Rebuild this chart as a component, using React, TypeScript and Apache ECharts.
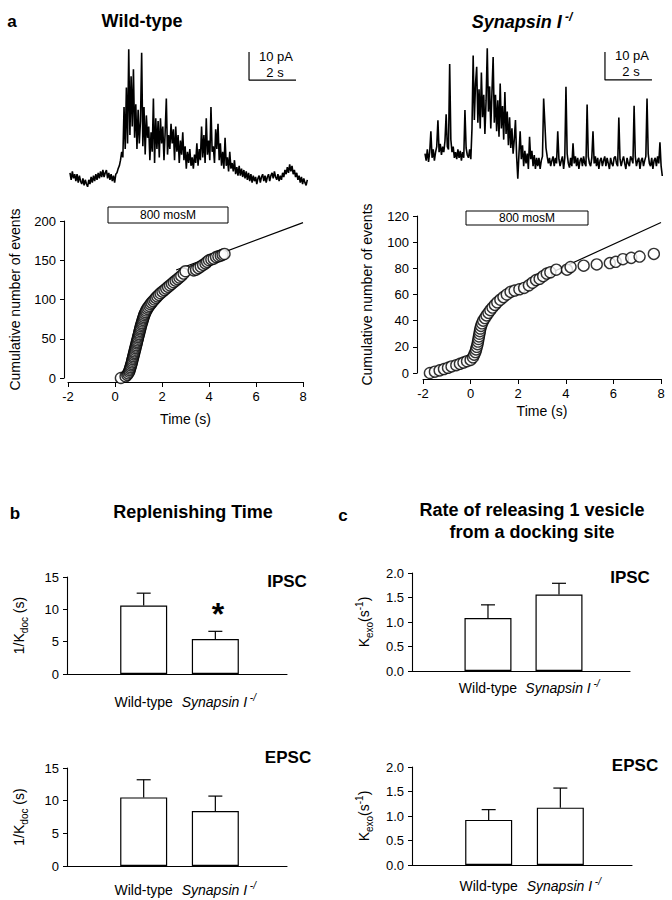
import React, { useEffect, useRef } from 'react';
import * as echarts from 'echarts';

const FONT = "'Liberation Sans', Arial, Helvetica, sans-serif";

// ---------- panel a: raw current traces (pA), sampled every traceDt seconds ----------
const traceDt = 0.05;
const wildTypeTrace = [
  1.5, -1, 2, -0.5, 1, -1.5, 1, -2, 0.5, -1.5,
  -2.5, -0.5, -3, -1, -2.5, -3.5, -1, -2.5, 0, -2,
  0.5, -1.5, 1, -1, 1.5, -0.5, 2, 0, 2.5, 0,
  1.5, 2.5, -0.5, 1.5, -1, 1, -1.5, 0.5, -2, 1,
  1.5, 3, 4, 6, 9, 7, 25, 10, 32, 12,
  45.6, 15, 36, 18, 38.5, 14, 26, 10, 24, 12,
  20, 44.4, 11, 25, 8, 22, 14, 18, 6, 16,
  9, 28, 5, 21, 10, 20, 7, 21, 12, 18,
  6, 16, 28, 8, 15, 10, 19, 12, 17, 6,
  18, 9, 15, 5, 13, 8, 16, 6, 11, 3,
  9, 5, 10, 4, 7, 3, 8, 5, 12, 4,
  10, 6, 18, 7, 15, 5, 21, 8, 13, 6,
  25, 9, 11, 5, 17, 10, 19, 6, 12, 4,
  9, 3, 14, 4, 7, 2, 9, 3, 5, 2,
  6, 1, 3.5, 0.5, 4, 0.5, 3, 0, 2.5, -0.5,
  2, -1, 1.5, -1.5, 1, -2, 0.5, -1.5, 0, -2.5,
  -0.5, 0.5, -2, 0, 1, -1.5, 0.5, -2, 0, 1,
  -1.5, 0.5, 1.5, -0.5, 2, 0, -1, 1, -1.5, 0.5,
  -1, 1.5, 0, 2.5, 1, 3.5, 1.5, 4.5, 2, 4,
  1, 2.5, 0, 1.5, -1, 0.5, -2, 0, -2.5, -0.5,
  -2, -3, -1,
];
const synapsinTrace = [
  3, 0.5, 4.5, 0, 3.5, 11, 1.5, 4.5, 0.5, 3.5,
  5.5, 14.9, 3.5, 6.5, 2.5, 5.5, 3.5, 7.5, 17, 5.5,
  4.5, 35, 8, 3.5, 5.5, 1.5, 3.5, 1, 4.5, 1.5,
  4, 0.5, 3.5, 1.5, 18.6, 5, 2.5, 1.5, 4.5, 1,
  12, 38, 15, 28, 34, 14, 26, 12, 32, 16,
  24, 10, 22, 40.6, 18, 27, 12, 25, 37.5, 14,
  24, 11, 22, 9, 28, 12, 20, 8, 25, 10,
  18, 6, 16, 5, 12, 3, 8, 15, 2, -6,
  3, 11, 1, 6, -1.5, 4, -0.5, 3, -2.5, 9,
  1, 4, -1.5, 2.5, -2.5, 1.5, -1.5, 1.5, -2.5, 0.5,
  2, 22.7, 14, 5, 2, -0.5, 1.5, -1.5, 0.5, 2,
  -1.5, 1.5, -0.5, 11, 1, -1.5, 0.5, 2, -2.5, 1.5,
  26.9, 3, -0.5, -2, 1.5, -1.5, 6.7, -0.5, 2, -1.5,
  1.5, -2.5, 0.5, 1.5, -1.5, 2, -0.5, -1.5, 20.5, 2,
  -0.5, -1.5, 1.5, 11, -0.5, 2, -1.5, 1.5, -2.5, 0.5,
  1.5, -1.5, 0.5, 2, -1.5, 1.5, -0.5, -2.5, 1.5, -0.5,
  -1.5, 1.5, 2, -0.5, -1.5, 15.9, 1, -1.5, 0.5, 2,
  -0.5, -2.5, 1.5, -0.5, -1.5, 2, 1, -0.5, 20.1, 2,
  -1.5, 0.5, 1.5, -2.5, 0.5, 1.5, -1.5, 0.5, 2, 22.7,
  3, -0.5, -1.5, 1.5, -2.5, 0.5, 1.5, -1.5, 2, -0.5,
  7, -1.5, -5,
];
// scale bars: 10 pA / 2 s, [time s, current pA]
const scaleBarWT = [[7.62, 44.6], [7.62, 34.6], [9.62, 34.6]];
const scaleBarSyn = [[7.66, 39.3], [7.66, 29.3], [9.66, 29.3]];

// ---------- panel a: cumulative number of events ----------
const wtCumulative = [
  [0.25, 0], [0.45, 2], [0.52, 4], [0.56, 6], [0.6, 8], [0.62, 10], [0.64, 12], [0.66, 14], [0.68, 16], [0.7, 18],
  [0.72, 20], [0.73, 22], [0.75, 24], [0.77, 26], [0.78, 28], [0.8, 30], [0.82, 32], [0.83, 34], [0.85, 36], [0.87, 38],
  [0.88, 40], [0.9, 42], [0.92, 44], [0.93, 46], [0.95, 48], [0.97, 50], [0.98, 52], [1.0, 54], [1.02, 56], [1.03, 58],
  [1.05, 60], [1.07, 62], [1.08, 64], [1.1, 66], [1.12, 68], [1.14, 70], [1.16, 72], [1.18, 74], [1.2, 76], [1.22, 78],
  [1.24, 80], [1.27, 82], [1.3, 84], [1.33, 86], [1.37, 88], [1.41, 90], [1.46, 92], [1.51, 94], [1.56, 96], [1.62, 98],
  [1.68, 100], [1.74, 102], [1.8, 104], [1.87, 106], [1.94, 108], [2.02, 110], [2.1, 112], [2.18, 114], [2.26, 116], [2.34, 118],
  [2.42, 120], [2.5, 122], [2.58, 124], [2.66, 126], [2.74, 128], [2.82, 130], [2.92, 133], [3.0, 136], [3.35, 137], [3.45, 138],
  [3.55, 140], [3.65, 142], [3.75, 144], [3.85, 146], [3.92, 148], [4.0, 150], [4.1, 151], [4.2, 152], [4.3, 154], [4.4, 155],
  [4.5, 156], [4.58, 157], [4.66, 158],
];
const wtFit = [[2.6, 137.5], [8, 198]];
const synCumulative = [
  [-1.71, 0], [-1.5, 1], [-1.3, 2], [-1.12, 3], [-0.95, 4], [-0.8, 5], [-0.6, 6], [-0.45, 7], [-0.3, 8], [-0.15, 9],
  [0.0, 10], [0.1, 12], [0.15, 14], [0.2, 16], [0.23, 18], [0.26, 20], [0.29, 22], [0.31, 24], [0.33, 26], [0.35, 28],
  [0.37, 30], [0.39, 32], [0.41, 34], [0.44, 36], [0.48, 38], [0.53, 40], [0.6, 42], [0.67, 44], [0.75, 46], [0.83, 48],
  [0.92, 50], [1.02, 52], [1.12, 54], [1.25, 56], [1.38, 58], [1.52, 60], [1.68, 62], [1.85, 63], [2.05, 64], [2.25, 65],
  [2.45, 67], [2.6, 69], [2.75, 71], [2.9, 72], [3.05, 74], [3.2, 76], [3.35, 77], [3.6, 79], [4.05, 79], [4.2, 81],
  [4.75, 82], [5.3, 83], [5.85, 84], [6.1, 85], [6.4, 87], [6.75, 88], [7.1, 89], [7.7, 91],
];
const synFit = [[1.5, 61], [8, 115]];

// ---------- panels b, c: bar charts ----------
const groups = ['Wild-type', 'Synapsin I'];
const groupPos = [1, 2];
const kdocIpscMean = [10.6, 5.4];
const kdocIpscSem = [1.9, 1.2];
const kdocEpscMean = [10.5, 8.4];
const kdocEpscSem = [2.7, 2.3];
const kexoIpscMean = [1.08, 1.56];
const kexoIpscSem = [0.27, 0.23];
const kexoEpscMean = [0.92, 1.17];
const kexoEpscSem = [0.21, 0.4];

const BLACK = '#000';

function baseAxis(extra: any) {
  const { axisLine, ...rest } = extra;
  return {
    axisLine: { show: true, onZero: false, lineStyle: { color: BLACK, width: 1.1 }, ...(axisLine || {}) },
    axisTick: { show: true, length: 4, lineStyle: { color: BLACK, width: 1 } },
    axisLabel: { color: BLACK, fontSize: 13, fontFamily: FONT },
    splitLine: { show: false },
    nameTextStyle: { color: BLACK, fontSize: 14, fontFamily: FONT },
    ...rest,
  };
}

const hiddenX = (idx: number) => ({ type: 'value', gridIndex: idx, min: 0, max: 10.13, show: false });
const hiddenY = (idx: number) => ({ type: 'value', gridIndex: idx, min: -10, max: 50, show: false });

const catRich = {
  wt: { fontSize: 14, fontFamily: FONT, color: BLACK, lineHeight: 20 },
  it: { fontStyle: 'italic', fontSize: 14, fontFamily: FONT, color: BLACK, lineHeight: 20, padding: [0, 0, 0, 7] },
  sup: { fontStyle: 'italic', fontSize: 10, fontFamily: FONT, color: BLACK, verticalAlign: 'top', lineHeight: 10 },
};

function barX(idx: number, margin: number) {
  return baseAxis({
    type: 'value', gridIndex: idx, min: -0.07, max: 3.0,
    axisTick: { show: false },
    axisLabel: {
      customValues: groupPos,
      margin,
      color: BLACK, fontSize: 14, fontFamily: FONT, lineHeight: 20,
      formatter: (v: number) => {
        const i = groupPos.indexOf(v);
        if (i === 0) return '{wt|' + groups[0] + '}';
        if (i === 1) return '{it|' + groups[1] + '}{sup| -/}';
        return '';
      },
      rich: catRich,
    },
  });
}

const subRich = {
  sub: { fontSize: 10, fontFamily: FONT, color: BLACK, verticalAlign: 'bottom', lineHeight: 10 },
  sup: { fontSize: 10, fontFamily: FONT, color: BLACK, verticalAlign: 'top', lineHeight: 10 },
};

function kdocY(idx: number) {
  return baseAxis({
    type: 'value', gridIndex: idx, min: 0, max: 15, interval: 5,
    name: '1/K{sub|doc} (s)', nameLocation: 'middle', nameGap: 38,
    nameTextStyle: { color: BLACK, fontSize: 14, fontFamily: FONT, lineHeight: 20, rich: subRich },
  });
}
function kexoY(idx: number) {
  return baseAxis({
    type: 'value', gridIndex: idx, min: 0, max: 2, interval: 0.5,
    axisLabel: { color: BLACK, fontSize: 13, fontFamily: FONT, formatter: (v: number) => v.toFixed(1) },
    name: 'K{sub|exo}(s{sup|-1})', nameLocation: 'middle', nameGap: 38,
    nameTextStyle: { color: BLACK, fontSize: 14, fontFamily: FONT, lineHeight: 20, rich: subRich },
  });
}

function barSeries(idx: number, means: number[]) {
  return {
    type: 'bar', xAxisIndex: idx, yAxisIndex: idx, silent: true,
    data: groupPos.map((x, i) => [x, means[i]]),
    barWidth: 47,
    itemStyle: { color: '#fff', borderColor: BLACK, borderWidth: 1.2 },
    z: 2,
  };
}
function errSeries(idx: number, means: number[], sems: number[]) {
  return {
    type: 'custom', xAxisIndex: idx, yAxisIndex: idx, silent: true, z: 3,
    encode: { x: 0, y: 1 },
    data: groupPos.map((x, i) => [x, means[i], sems[i]]),
    renderItem: (params: any, api: any) => {
      const x = api.value(0), m = api.value(1), e = api.value(2);
      const p0 = api.coord([x, m]);
      const p1 = api.coord([x, m + e]);
      const st = { stroke: BLACK, lineWidth: 1.2 };
      return {
        type: 'group',
        children: [
          { type: 'line', shape: { x1: p0[0], y1: p0[1], x2: p1[0], y2: p1[1] }, style: st },
          { type: 'line', shape: { x1: p1[0] - 7, y1: p1[1], x2: p1[0] + 7, y2: p1[1] }, style: st },
        ],
      };
    },
  };
}

function txt(text: string, x: number, y: number, size: number, weight = 'bold', extra: any = {}) {
  return {
    type: 'text', x, y, silent: true,
    style: { text, fontSize: size, fontWeight: weight, fontFamily: FONT, fill: BLACK, align: 'center', verticalAlign: 'middle', ...extra },
  };
}

export default function App() {
  const ref = useRef<HTMLDivElement>(null);
  useEffect(() => {
    if (!ref.current) return;
    const chart = echarts.init(ref.current, undefined, { renderer: 'svg' });
    const traceLine = (idx: number, data: number[][], w: number) => ({
      type: 'line', xAxisIndex: idx, yAxisIndex: idx, data, symbol: 'none', showSymbol: false, silent: true,
      lineStyle: { color: BLACK, width: w },
    });
    const circleStyle = { color: '#fff', borderColor: BLACK, borderWidth: 1.4 };
    const option: any = {
      animation: false,
      backgroundColor: '#fff',
      grid: [
        { left: 70, top: 37, width: 238, height: 168 },
        { left: 425, top: 22, width: 238, height: 168 },
        { left: 68, top: 221, width: 235, height: 157 },
        { left: 423, top: 216, width: 238, height: 157 },
        { left: 67, top: 577, width: 220, height: 97 },
        { left: 67, top: 768, width: 220, height: 98 },
        { left: 412, top: 573, width: 218, height: 98 },
        { left: 412, top: 767, width: 220, height: 98 },
      ],
      xAxis: [
        hiddenX(0),
        hiddenX(1),
        baseAxis({ type: 'value', gridIndex: 2, min: -2, max: 8, interval: 2, offset: 4, axisTick: { show: true, length: 5, lineStyle: { color: BLACK } }, name: 'Time (s)', nameLocation: 'middle', nameGap: 30 }),
        baseAxis({ type: 'value', gridIndex: 3, min: -2, max: 8, interval: 2, offset: 6, axisTick: { show: true, length: 5, lineStyle: { color: BLACK } }, name: 'Time (s)', nameLocation: 'middle', nameGap: 25 }),
        barX(4, 18),
        barX(5, 14),
        barX(6, 7),
        barX(7, 11),
      ],
      yAxis: [
        hiddenY(0),
        hiddenY(1),
        baseAxis({ type: 'value', gridIndex: 2, min: 0, max: 200, interval: 50, offset: 4, name: 'Cumulative number of events', nameLocation: 'middle', nameGap: 42 }),
        baseAxis({ type: 'value', gridIndex: 3, min: 0, max: 120, interval: 20, offset: 6, name: 'Cumulative number of events', nameLocation: 'middle', nameGap: 43 }),
        kdocY(4),
        kdocY(5),
        kexoY(6),
        kexoY(7),
      ],
      series: [
        traceLine(0, wildTypeTrace.map((v, i) => [i * traceDt, v]), 1.6),
        traceLine(1, synapsinTrace.map((v, i) => [i * traceDt, v]), 1.6),
        traceLine(0, scaleBarWT, 1.2),
        traceLine(1, scaleBarSyn, 1.2),
        { type: 'line', xAxisIndex: 2, yAxisIndex: 2, data: wtFit, symbol: 'none', silent: true, lineStyle: { color: BLACK, width: 1.2 }, z: 2 },
        { type: 'scatter', xAxisIndex: 2, yAxisIndex: 2, data: wtCumulative, symbol: 'circle', symbolSize: 11, silent: true, itemStyle: circleStyle, z: 3 },
        { type: 'line', xAxisIndex: 3, yAxisIndex: 3, data: synFit, symbol: 'none', silent: true, lineStyle: { color: BLACK, width: 1.2 }, z: 2 },
        { type: 'scatter', xAxisIndex: 3, yAxisIndex: 3, data: synCumulative, symbol: 'circle', symbolSize: 11, silent: true, itemStyle: circleStyle, z: 3 },
        barSeries(4, kdocIpscMean), errSeries(4, kdocIpscMean, kdocIpscSem),
        barSeries(5, kdocEpscMean), errSeries(5, kdocEpscMean, kdocEpscSem),
        barSeries(6, kexoIpscMean), errSeries(6, kexoIpscMean, kexoIpscSem),
        barSeries(7, kexoEpscMean), errSeries(7, kexoEpscMean, kexoEpscSem),
      ],
      graphic: [
        txt('a', 12, 21, 17),
        txt('Wild-type', 142, 21, 18),
        {
          type: 'text', x: 522, y: 22, silent: true,
          style: {
            text: '{m|Synapsin I}{s| -/}', align: 'center', verticalAlign: 'middle', fill: BLACK,
            rich: {
              m: { fontSize: 18, fontWeight: 'bold', fontStyle: 'italic', fontFamily: FONT, fill: BLACK, lineHeight: 22 },
              s: { fontSize: 12, fontWeight: 'bold', fontStyle: 'italic', fontFamily: FONT, fill: BLACK, verticalAlign: 'top', lineHeight: 12 },
            },
          },
        },
        txt('10 pA', 276, 56, 13, 'normal'),
        txt('2 s', 275, 72, 13, 'normal'),
        txt('10 pA', 632, 55, 13, 'normal'),
        txt('2 s', 631, 71, 13, 'normal'),
        { type: 'rect', silent: true, shape: { x: 108, y: 207, width: 120, height: 16 }, style: { fill: '#fff', stroke: BLACK, lineWidth: 1 } },
        txt('800 mosM', 168, 215, 12, 'normal'),
        { type: 'rect', silent: true, shape: { x: 466, y: 211, width: 122, height: 14 }, style: { fill: '#fff', stroke: BLACK, lineWidth: 1 } },
        txt('800 mosM', 527, 218, 12, 'normal'),
        txt('b', 15, 513, 17),
        txt('Replenishing Time', 193, 512, 18),
        txt('c', 343, 515, 17),
        txt('Rate of releasing 1 vesicle', 532, 510, 18),
        txt('from a docking site', 532, 532, 18),
        txt('IPSC', 287, 581, 17),
        txt('EPSC', 288, 757, 17),
        txt('IPSC', 630, 577, 17),
        txt('EPSC', 635, 765, 17),
        txt('*', 218, 614, 32),
      ],
    };
    chart.setOption(option);
    return () => chart.dispose();
  }, []);
  return <div ref={ref} style={{ position: 'absolute', left: 0, top: 0, width: 672, height: 900, background: '#fff' }} />;
}
